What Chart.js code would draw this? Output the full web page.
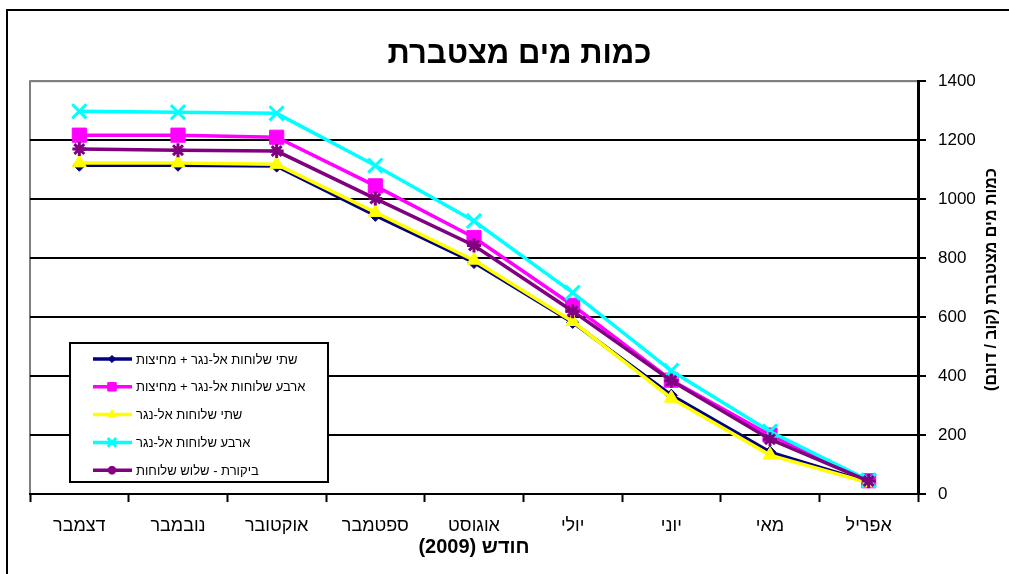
<!DOCTYPE html>
<html lang="he">
<head>
<meta charset="UTF-8">
<title>כמות מים מצטברת</title>
<script src="https://cdn.jsdelivr.net/npm/chart.js@4.4.1/dist/chart.umd.min.js"></script>
<style>
  body { margin: 0; background: #fff; }
</style>
</head>
<body>
<canvas id="myChart" width="1009" height="574" dir="rtl"></canvas>
<script>
// months run April..December; the x axis is reversed so April sits on the right
var months = ['אפריל', 'מאי', 'יוני', 'יולי', 'אוגוסט', 'ספטמבר', 'אוקטובר', 'נובמבר', 'דצמבר'];
var seriesNames = [
    'שתי שלוחות אל-נגר + מחיצות',
    'ארבע שלוחות אל-נגר + מחיצות',
    'שתי שלוחות אל-נגר',
    'ארבע שלוחות אל-נגר',
    'ביקורת - שלוש שלוחות'
];
var twoWithWalls  = [40, 142, 335, 582, 785, 945, 1112, 1115, 1115];
var fourWithWalls = [45, 200, 386, 640, 870, 1045, 1210, 1217, 1217];
var twoNoWalls    = [38, 132, 325, 585, 793, 955, 1118, 1123, 1123];
var fourNoWalls   = [46, 212, 418, 683, 926, 1114, 1291, 1295, 1298];
var control       = [44, 186, 384, 620, 843, 1002, 1163, 1166, 1170];
var yMin = 0, yMax = 1400, yStep = 200;

var chartTitle = 'כמות מים מצטברת';
var xTitle = 'חודש (2009)';
var yTitle = 'כמות מים מצטברת (קוב / דונם)';

var fontFamily = "'Liberation Sans', Arial, 'DejaVu Sans', sans-serif";

function series(label, data, color, style, radius, width, order) {
    return {
        label: label,
        data: data,
        borderColor: color,
        backgroundColor: color,
        borderWidth: 3.5,
        tension: 0,
        pointStyle: style,
        pointRadius: radius,
        pointHoverRadius: radius,
        pointBackgroundColor: color,
        pointBorderColor: color,
        pointBorderWidth: width,
        order: order
    };
}

var datasets = [
    series(seriesNames[0], twoWithWalls, '#000080', 'rectRot', 6, 1, 5),
    series(seriesNames[1], fourWithWalls, '#FF00FF', 'rect', 10, 1, 4),
    series(seriesNames[2], twoNoWalls, '#FFFF00', 'triangle', 8, 1, 3),
    series(seriesNames[3], fourNoWalls, '#00FFFF', 'crossRot', 10, 3, 2),
    series(seriesNames[4], control, '#800080', 'star', 7, 3, 1)
];

// white page, outer frame and grey plot frame
var frames = {
    id: 'frames',
    beforeDraw: function (chart) {
        var ctx = chart.ctx, a = chart.chartArea;
        ctx.save();
        ctx.fillStyle = '#fff';
        ctx.fillRect(0, 0, chart.width, chart.height);
        ctx.lineWidth = 2;
        ctx.strokeStyle = '#000';
        ctx.strokeRect(7, 10, chart.width + 50, chart.height + 50);
        ctx.strokeStyle = '#808080';
        ctx.strokeRect(a.left, a.top, a.right - a.left, a.bottom - a.top);
        ctx.restore();
    }
};

// y title reads bottom-to-top on the right side
var sideTitle = {
    id: 'sideTitle',
    afterDraw: function (chart) {
        var ctx = chart.ctx, a = chart.chartArea;
        ctx.save();
        ctx.translate(chart.scales.y.right - 17, (a.top + a.bottom) / 2 - 8);
        ctx.rotate(-Math.PI / 2);
        ctx.direction = 'rtl';
        ctx.font = 'bold 16px ' + fontFamily;
        ctx.fillStyle = '#000';
        ctx.textAlign = 'center';
        ctx.textBaseline = 'middle';
        ctx.fillText(yTitle, 0, 0);
        ctx.restore();
    }
};

// boxed legend in the lower left of the plot
var boxLegend = {
    id: 'boxLegend',
    afterDraw: function (chart) {
        var ctx = chart.ctx, a = chart.chartArea;
        var left = a.left + 40, w = 258, h = 139;
        var top = a.bottom - 12 - h;
        ctx.save();
        ctx.fillStyle = '#fff';
        ctx.fillRect(left, top, w, h);
        ctx.lineWidth = 2;
        ctx.strokeStyle = '#000';
        ctx.strokeRect(left, top, w, h);
        ctx.font = '13px ' + fontFamily;
        ctx.textBaseline = 'middle';
        ctx.textAlign = 'left';
        chart.data.datasets.forEach(function (ds, i) {
            var y = top + 16 + i * 27.8;
            ctx.strokeStyle = ds.borderColor;
            ctx.fillStyle = ds.borderColor;
            ctx.lineWidth = 3.5;
            ctx.beginPath();
            ctx.moveTo(left + 23, y);
            ctx.lineTo(left + 62, y);
            ctx.stroke();
            ctx.lineWidth = ds.pointBorderWidth;
            Chart.helpers.drawPoint(ctx, {
                pointStyle: ds.pointStyle,
                radius: ds.pointRadius * 0.6,
                rotation: 0,
                borderWidth: ds.pointBorderWidth
            }, left + 42, y);
            ctx.fillStyle = '#000';
            ctx.fillText(ds.label, left + 66, y + 1);
        });
        ctx.restore();
    }
};

var ctx = document.getElementById('myChart');
var myChart = new Chart(ctx, {
    type: 'line',
    data: {
        labels: months,
        datasets: datasets
    },
    plugins: [frames, sideTitle, boxLegend],
    options: {
        responsive: false,
        animation: false,
        layout: { padding: { left: 30, right: 0, top: 0, bottom: 0 } },
        plugins: {
            legend: { display: false },
            tooltip: { enabled: false },
            title: {
                display: true,
                text: chartTitle,
                color: '#000',
                font: { family: fontFamily, size: 31, weight: 'bold' },
                padding: { top: 36, bottom: 8 }
            }
        },
        scales: {
            x: {
                reverse: true,
                offset: true,
                grid: {
                    offset: true,
                    drawOnChartArea: false,
                    drawTicks: true,
                    tickLength: 8,
                    tickColor: '#000',
                    tickWidth: 2
                },
                border: { color: '#000', width: 2 },
                ticks: {
                    color: '#000',
                    font: { family: fontFamily, size: 18 },
                    padding: 13,
                    maxRotation: 0,
                    autoSkip: false
                },
                title: {
                    display: true,
                    text: xTitle,
                    color: '#000',
                    font: { family: fontFamily, size: 20, weight: 'bold' },
                    padding: { top: 0, bottom: 15 }
                },
                afterFit: function (scale) { scale.height = 80; }
            },
            y: {
                position: 'right',
                min: yMin,
                max: yMax,
                ticks: {
                    stepSize: yStep,
                    color: '#000',
                    font: { family: fontFamily, size: 17 },
                    padding: 12,
                    callback: function (v) { return String(v); }
                },
                grid: {
                    color: function (c) { return c.tick && c.tick.value === yMax ? '#808080' : '#000'; },
                    lineWidth: 2,
                    tickLength: 8,
                    tickColor: '#000',
                    tickWidth: 2
                },
                border: { color: '#000', width: 3 },
                afterFit: function (scale) { scale.width = 91; }
            }
        }
    }
});
</script>
</body>
</html>
